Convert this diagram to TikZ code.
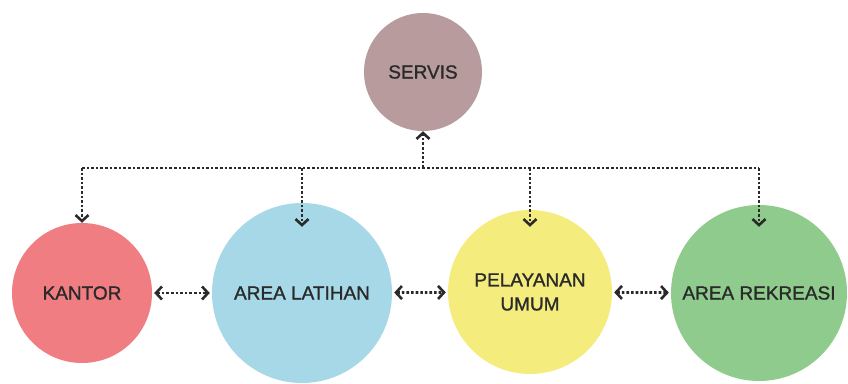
\documentclass[tikz,border=0pt]{standalone}
\usepackage{fontspec}
\setmainfont{Liberation Sans}
\newfontfamily\zonefont[FakeBold=1.2]{Liberation Sans}
\usetikzlibrary{arrows.meta}

\definecolor{cServis}{HTML}{B89B9D}
\definecolor{cKantor}{HTML}{F07D82}
\definecolor{cLatihan}{HTML}{A6D8E7}
\definecolor{cUmum}{HTML}{F5EC7E}
\definecolor{cRekreasi}{HTML}{8FCB8C}
\definecolor{cTrait}{HTML}{2A2A2A}

\tikzset{Zone/.style={circle,draw=none,inner sep=0pt,align=center,text=cTrait,font=\zonefont\fontsize{19}{24}\selectfont}}
\tikzset{Lien/.style={cTrait,line width=2.8pt,dash pattern=on 2.6pt off 2pt}}

\begin{document}
\begin{tikzpicture}[x=1pt,y=1pt,>={Straight Barb[length=6pt,width=13pt,line width=2.6pt]}]
\useasboundingbox (0,0) rectangle (848,383);

\node[Zone,fill=cServis,minimum size=118pt] (S) at (423,311) {SERVIS};
\node[Zone,fill=cKantor,minimum size=140pt] (K) at (82,90) {KANTOR};
\node[Zone,fill=cLatihan,minimum size=180pt] (L) at (302,90) {AREA LATIHAN};
\node[Zone,fill=cUmum,minimum size=164pt] (P) at (530,91) {PELAYANAN\\UMUM};
\node[Zone,fill=cRekreasi,minimum size=176pt] (R) at (759,90) {AREA REKREASI};

\coordinate (BusG) at (82,215);
\coordinate (BusD) at (R|-BusG);

\draw[Lien] (BusG) -- (BusD);
\draw[Lien,->] (S|-BusG) -- (S);
\draw[Lien,->] (BusG) -- (K);
\draw[Lien,->,shorten >=-24pt] (L|-BusG) -- (L);
\draw[Lien,->,shorten >=-17pt] (P|-BusG) -- (P);
\draw[Lien,->,shorten >=-22pt] (BusD) -- (R);

\draw[Lien,<->,shorten <=2pt,shorten >=2pt] (K) -- (L);
\draw[Lien,<->,shorten <=2pt,shorten >=2pt] (L) -- (P);
\draw[Lien,<->,shorten <=2pt,shorten >=2pt] (P) -- (R);

\end{tikzpicture}
\end{document}
